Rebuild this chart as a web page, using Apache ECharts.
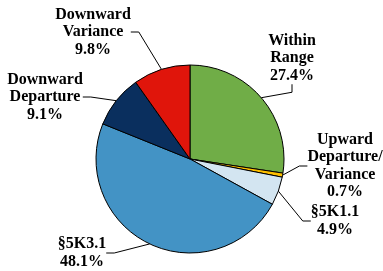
<!DOCTYPE html>
<html>
<head>
<meta charset="utf-8">
<script src="https://cdn.jsdelivr.net/npm/echarts@6/dist/echarts.min.js"></script>
<style>
  html, body { margin: 0; padding: 0; background: #fff; }
  #chart { width: 383px; height: 271px; }
</style>
</head>
<body>
<div id="chart"></div>
<script>
const categories = ['Within\nRange', 'Upward\nDeparture/\nVariance', '§5K1.1', '§5K3.1', 'Downward\nDeparture', 'Downward\nVariance'];
const shares = [27.4, 0.7, 4.9, 48.1, 9.1, 9.8];
const sliceColors = ['#70AD47', '#FFC000', '#D3E5F1', '#4393C5', '#0A2F5E', '#E0150B'];

// where each label sits (centre of text block)
const labelSpots = [[292, 58], [345, 166], [335, 221], [82, 253], [45, 97], [93, 32]];

const chart = echarts.init(document.getElementById('chart'), null, { renderer: 'canvas' });

chart.setOption({
  animation: false,
  series: [{
    type: 'pie',
    center: [190, 159],
    radius: 94,
    startAngle: 90,
    clockwise: true,
    avoidLabelOverlap: false,
    data: categories.map((c, i) => ({
      name: c,
      value: shares[i],
      itemStyle: { color: sliceColors[i] }
    })),
    itemStyle: { borderColor: '#000', borderWidth: 1 },
    label: {
      show: true,
      position: 'outside',
      formatter: p => p.name + '\n' + p.value.toFixed(1) + '%',
      fontFamily: '"Liberation Serif", "Times New Roman", serif',
      fontWeight: 'bold',
      fontSize: 16,
      lineHeight: 17.5,
      color: '#000',
      align: 'center'
    },
    labelLine: {
      show: true,
      length: 10,
      length2: 8,
      lineStyle: { color: '#000', width: 1 }
    },
    labelLayout: p => ({
      x: labelSpots[p.dataIndex][0],
      y: labelSpots[p.dataIndex][1],
      align: 'center',
      verticalAlign: 'middle'
    })
  }]
});
</script>
</body>
</html>
